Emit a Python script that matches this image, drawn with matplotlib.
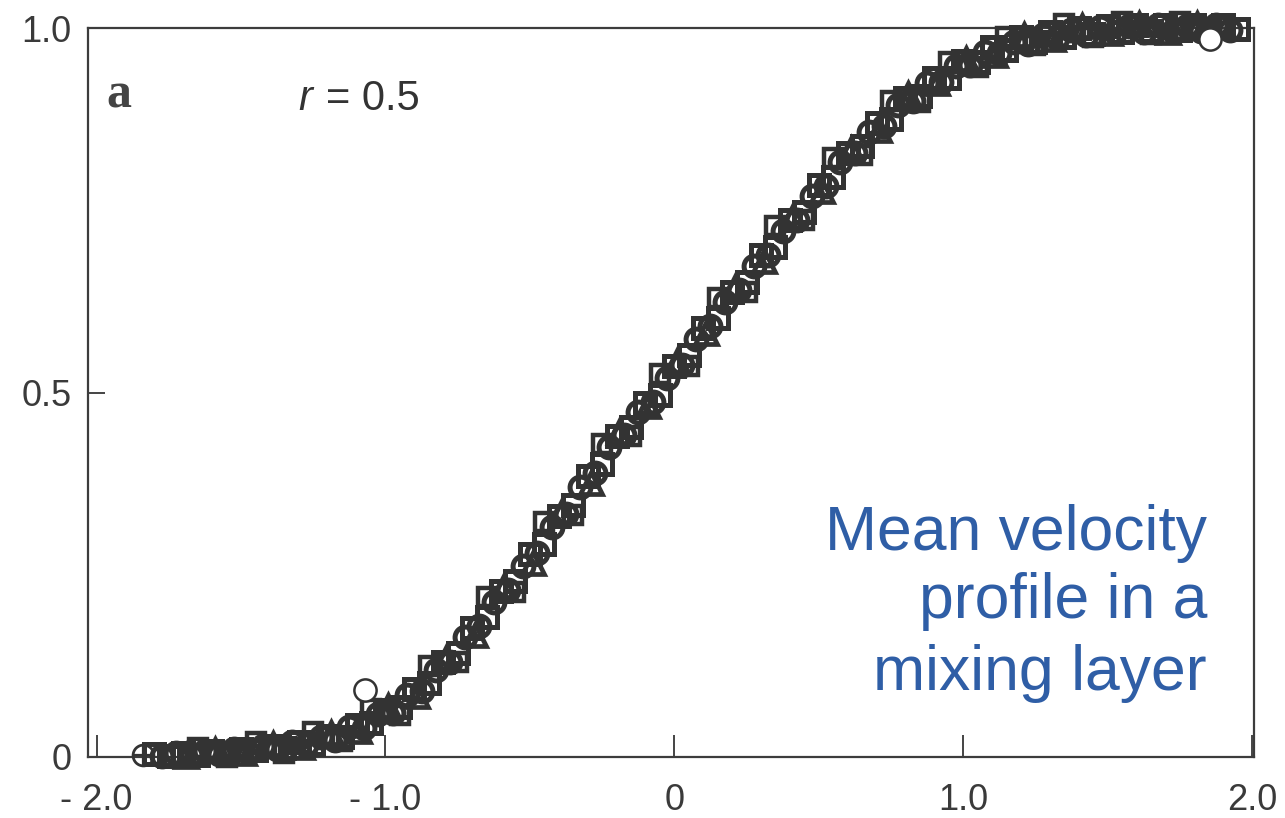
import matplotlib
matplotlib.use("Agg")
import matplotlib.pyplot as plt
from matplotlib import font_manager as fm

avail = {f.name for f in fm.fontManager.ttflist}
SANS = "Liberation Sans Narrow" if "Liberation Sans Narrow" in avail else "Liberation Sans"
plt.rcParams['font.family'] = [SANS, 'DejaVu Sans']

# ---- data ----
sq_x = [-1.80, -1.75, -1.70, -1.65, -1.60, -1.55, -1.50, -1.45, -1.40, -1.35,
        -1.30, -1.25, -1.20, -1.15, -1.10, -1.05, -1.00, -0.95, -0.90, -0.85,
        -0.80, -0.75, -0.70, -0.65, -0.60, -0.55, -0.50, -0.45, -0.40, -0.35,
        -0.30, -0.25, -0.20, -0.15, -0.10, -0.05, 0.00, 0.05, 0.10, 0.15,
        0.20, 0.25, 0.30, 0.35, 0.40, 0.45, 0.50, 0.55, 0.60, 0.65,
        0.70, 0.75, 0.80, 0.85, 0.90, 0.95, 1.00, 1.05, 1.10, 1.15,
        1.20, 1.25, 1.30, 1.35, 1.40, 1.45, 1.50, 1.55, 1.60, 1.65,
        1.70, 1.75, 1.80, 1.85, 1.90, 1.95]
sq_y = [0.004, 0.002, 0.006, 0.003, 0.008, 0.005, 0.011, 0.009, 0.015, 0.012,
        0.021, 0.018, 0.029, 0.028, 0.044, 0.046, 0.064, 0.069, 0.093, 0.101,
        0.130, 0.143, 0.177, 0.192, 0.228, 0.241, 0.278, 0.292, 0.331, 0.346,
        0.386, 0.402, 0.440, 0.452, 0.486, 0.497, 0.536, 0.551, 0.589, 0.602,
        0.638, 0.651, 0.688, 0.700, 0.736, 0.748, 0.784, 0.795, 0.829, 0.838,
        0.869, 0.875, 0.904, 0.907, 0.932, 0.932, 0.955, 0.953, 0.974, 0.970,
        0.987, 0.981, 0.995, 0.988, 1.000, 0.992, 1.003, 0.995, 1.004, 0.996,
        1.004, 0.997, 1.004, 0.997, 1.004, 0.998]

ci_x = [-1.775, -1.725, -1.675, -1.625, -1.575, -1.525, -1.475, -1.425, -1.375, -1.325,
        -1.275, -1.225, -1.175, -1.125, -1.075, -1.025, -0.975, -0.925, -0.875, -0.825,
        -0.775, -0.725, -0.675, -0.625, -0.575, -0.525, -0.475, -0.425, -0.375, -0.325,
        -0.275, -0.225, -0.175, -0.125, -0.075, -0.025, 0.025, 0.075, 0.125, 0.175,
        0.225, 0.275, 0.325, 0.375, 0.425, 0.475, 0.525, 0.575, 0.625, 0.675,
        0.725, 0.775, 0.825, 0.875, 0.925, 0.975, 1.025, 1.075, 1.125, 1.175,
        1.225, 1.275, 1.325, 1.375, 1.425, 1.475, 1.525, 1.575, 1.625, 1.675,
        1.725, 1.775, 1.825, 1.875, 1.925]
ci_y = [0.001, 0.006, 0.003, 0.008, 0.004, 0.011, 0.007, 0.015, 0.011, 0.020,
        0.016, 0.028, 0.024, 0.041, 0.040, 0.059, 0.061, 0.085, 0.091, 0.119,
        0.131, 0.164, 0.180, 0.213, 0.229, 0.262, 0.280, 0.315, 0.334, 0.370,
        0.389, 0.425, 0.442, 0.473, 0.487, 0.520, 0.538, 0.574, 0.591, 0.624,
        0.640, 0.673, 0.689, 0.722, 0.737, 0.770, 0.783, 0.816, 0.828, 0.858,
        0.866, 0.894, 0.900, 0.924, 0.926, 0.948, 0.949, 0.967, 0.966, 0.981,
        0.978, 0.991, 0.986, 0.997, 0.991, 1.001, 0.994, 1.003, 0.995, 1.004,
        0.996, 1.003, 0.996, 1.004, 0.997]

tr_x = [-1.69, -1.59, -1.49, -1.39, -1.29, -1.19, -1.09, -0.99, -0.89, -0.79,
        -0.69, -0.59, -0.49, -0.39, -0.29, -0.19, -0.09, 0.01, 0.11, 0.21,
        0.31, 0.41, 0.51, 0.61, 0.71, 0.81, 0.91, 1.01, 1.11, 1.21,
        1.31, 1.41, 1.51, 1.61, 1.71, 1.81]
tr_y = [0.002, 0.010, 0.006, 0.018, 0.014, 0.033, 0.036, 0.070, 0.084, 0.136,
        0.168, 0.234, 0.266, 0.337, 0.376, 0.446, 0.481, 0.543, 0.582, 0.645,
        0.680, 0.742, 0.776, 0.834, 0.860, 0.909, 0.924, 0.958, 0.963, 0.990,
        0.985, 1.003, 0.993, 1.006, 0.995, 1.005]

# outlying squares at the edges of the band
ed_x = [-1.65, -1.55, -1.45, -1.35, -1.25, -1.15, -1.05, -0.95, -0.85, -0.75,
        -0.65, -0.55, -0.45, -0.35, -0.25, -0.15, -0.05, 0.05, 0.15, 0.25,
        0.35, 0.45, 0.55, 0.65, 0.75, 0.85, 0.95, 1.05, 1.15, 1.25,
        1.35, 1.45, 1.55, 1.65, 1.75, 1.85]
ed_y = [0.012, 0.000, 0.020, 0.006, 0.034, 0.022, 0.066, 0.058, 0.125, 0.130,
        0.220, 0.226, 0.322, 0.332, 0.430, 0.440, 0.525, 0.537, 0.630, 0.638,
        0.728, 0.736, 0.822, 0.826, 0.900, 0.898, 0.954, 0.946, 0.988, 0.976,
        1.005, 0.988, 1.008, 0.992, 1.008, 0.994]

big_x = [-1.07, 1.855]
big_y = [0.092, 0.985]
cp_x = [-1.84]
cp_y = [0.003]

xticks = [-2.0, -1.0, 0.0, 1.0, 2.0]
xticklabels = ['- 2.0', '- 1.0', '0', '1.0', '2.0']
yticks = [0.0, 0.5, 1.0]
yticklabels = ['0', '0.5', '1.0']

# ---- figure ----
W, H = 1285, 818
fig = plt.figure(figsize=(W / 100, H / 100), dpi=100)
fig.patch.set_facecolor('white')
ax = fig.add_axes([88 / W, 1 - 757 / H, (1254 - 88) / W, (757 - 28) / H])
ax.set_xlim(-2.03, 2.007)
ax.set_ylim(0.0, 1.0)

ink = '#333333'
common = dict(linestyle='none', mfc='none', mec=ink, clip_on=False, zorder=3)
ax.plot(sq_x, sq_y, marker='s', ms=15, mew=3.6, **common)
ax.plot(ci_x, ci_y, marker='o', ms=15, mew=3.6, **common)
ax.plot(tr_x, tr_y, marker='^', ms=16, mew=3.4, **common)
ax.plot(ed_x, ed_y, marker='s', ms=13, mew=3.2, **common)
ax.plot(big_x, big_y, marker='o', ms=16, mew=1.8, linestyle='none',
        mfc='white', mec=ink, clip_on=False, zorder=4)
ax.plot(cp_x, cp_y, marker='o', ms=15, mew=2.0, linestyle='none',
        mfc='none', mec=ink, clip_on=False, zorder=4)
ax.plot(cp_x, cp_y, marker='+', ms=15, mew=1.6, linestyle='none',
        color=ink, clip_on=False, zorder=4)

for s in ax.spines.values():
    s.set_color('#3c3c3c')
    s.set_linewidth(1.6)

ax.set_xticks(xticks)
ax.set_xticklabels(xticklabels)
ax.set_yticks(yticks)
ax.set_yticklabels(yticklabels)
ax.tick_params(axis='x', direction='in', length=16, width=1.4, color='#444444',
               labelsize=26, labelcolor='#3a3a3a', pad=19)
ax.tick_params(axis='y', direction='in', length=12, width=1.4, color='#444444',
               labelsize=26, labelcolor='#3a3a3a', pad=12)

# panel annotations
fig.text(106 / W, 1 - 108 / H, 'a', family=['Liberation Serif', 'DejaVu Serif'],
         fontweight='bold', fontsize=36, color='#444444', va='baseline', ha='left')
fig.text(298 / W, 1 - 110 / H, 'r', fontstyle='italic', fontsize=30,
         color='#333333', va='baseline', ha='left')
fig.text(326 / W, 1 - 110 / H, '= 0.5', fontsize=30,
         color='#333333', va='baseline', ha='left')

# blue caption
blue = '#2f5ea6'
cap_font = ['Liberation Sans', 'DejaVu Sans']
for line, base in [('Mean velocity', 550), ('profile in a', 618), ('mixing layer', 690)]:
    fig.text(1207 / W, 1 - base / H, line, family=cap_font, fontsize=45,
             color=blue, ha='right', va='baseline')

fig.savefig('out.png', dpi=100, facecolor='white')
